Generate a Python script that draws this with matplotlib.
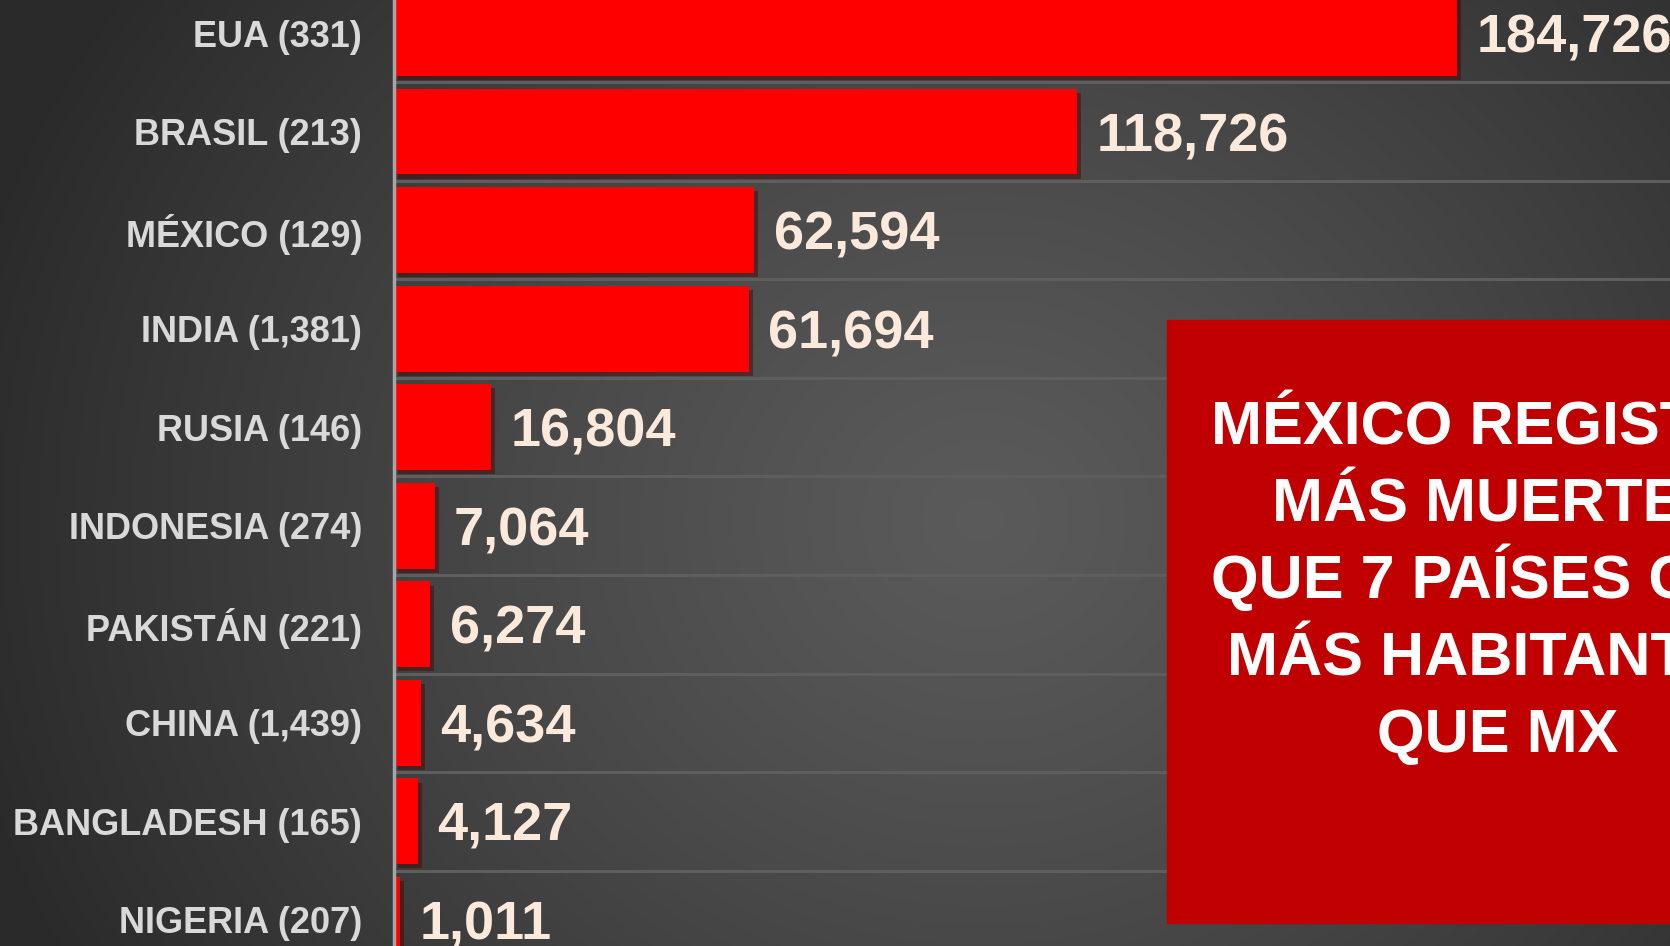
import matplotlib
matplotlib.use('Agg')
import matplotlib.pyplot as plt
import matplotlib.patheffects as pe
from matplotlib.patches import Rectangle
import numpy as np

countries = ['EUA', 'BRASIL', 'MÉXICO', 'INDIA', 'RUSIA', 'INDONESIA',
             'PAKISTÁN', 'CHINA', 'BANGLADESH', 'NIGERIA']
population = ['331', '213', '129', '1,381', '146', '274', '221', '1,439', '165', '207']
deaths = [184726, 118726, 62594, 61694, 16804, 7064, 6274, 4634, 4127, 1011]
box_lines = ['MÉXICO REGISTRA', 'MÁS MUERTES', 'QUE 7 PAÍSES CON',
             'MÁS HABITANTES', 'QUE MX']

plt.rcParams['font.family'] = ['Liberation Sans', 'DejaVu Sans']

W, H = 1670, 946
fig = plt.figure(figsize=(W / 100, H / 100), dpi=100)

# radial grey background
bg = fig.add_axes([0, 0, 1, 1])
yy, xx = np.mgrid[0:H, 0:W]
r = np.hypot((xx - 980) / 1.0, (yy - 520) / 0.9)
v = 0.355 - 0.19 * np.clip(r / 1050, 0, 1) ** 1.2
bg.imshow(np.dstack([v, v, v]), extent=[0, 1, 0, 1], aspect='auto', zorder=0)
bg.set_axis_off()

x0 = 394 / W
ax = fig.add_axes([x0, 0, 1 - x0, 1])
ax.set_facecolor('none')
y = np.arange(len(countries))
for i in range(len(countries) - 1):
    ax.axhline(i + 0.5, color='#5e5e5e', lw=2.2, zorder=1)
bars = ax.barh(y, deaths, height=0.87, color='#ff0000', zorder=3)
for b in bars:
    b.set_path_effects([pe.SimplePatchShadow(offset=(3, -3), alpha=0.45), pe.Normal()])

for i, d in enumerate(deaths):
    ax.annotate(f'{d:,}', (d, i), xytext=(14, -4), textcoords='offset points',
                va='center', ha='left', fontsize=39, fontweight='bold',
                color='#fbe9dc', zorder=4)

ax.set_xlim(0, 221750)
ax.set_ylim(9.265, -0.335)
ax.set_yticks(y, [f'{c} ({p})' for c, p in zip(countries, population)])
ax.tick_params(axis='y', length=0, pad=23, labelsize=26, labelcolor='#d9d9d9')
for t in ax.get_yticklabels():
    t.set_fontweight('bold')
ax.set_xticks([])
for s in ['top', 'right', 'bottom']:
    ax.spines[s].set_visible(False)
ax.spines['left'].set_color('#a6a6a6')
ax.spines['left'].set_linewidth(2.5)
ax.spines['left'].set_zorder(5)

# red call-out box
bx, by = 1167 / W, 1 - 923 / H
fig.patches.append(Rectangle((bx, by), 1 - bx + 0.1, (923 - 320) / H,
                             transform=fig.transFigure, color='#c00000', zorder=10))
cx = 1498 / W
for k, line in enumerate(box_lines):
    fig.text(cx, 1 - (444 + k * 77) / H, line, ha='center', va='baseline',
             fontsize=44, fontweight='bold', color='white', zorder=11)

fig.savefig('out.png', dpi=100)
